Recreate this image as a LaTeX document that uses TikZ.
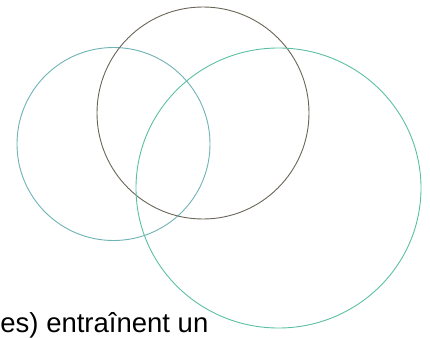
\documentclass[tikz,border=0pt]{standalone}
\usepackage{fontspec}
\setmainfont{Liberation Sans}
\usepackage{tikz}
\usepackage{xcolor}

\definecolor{ringleft}{RGB}{112,178,182}
\definecolor{ringtop}{RGB}{105,100,88}
\definecolor{ringright}{RGB}{92,190,165}

\begin{document}
\begin{tikzpicture}[x=1pt,y=-1pt,line width=0.9pt]
\useasboundingbox (0,0) rectangle (430,337);
\draw[ringleft]  (113.5,144) circle (96.5);
\draw[ringtop]   (203,113) circle (106);
\draw[ringright] (278.5,188) ellipse (142.5 and 140);
\node (caption) [anchor=base west,inner sep=0pt,font=\fontsize{27.5}{30}\selectfont]
  at (0,332) {es) entraînent un};
\end{tikzpicture}
\end{document}
